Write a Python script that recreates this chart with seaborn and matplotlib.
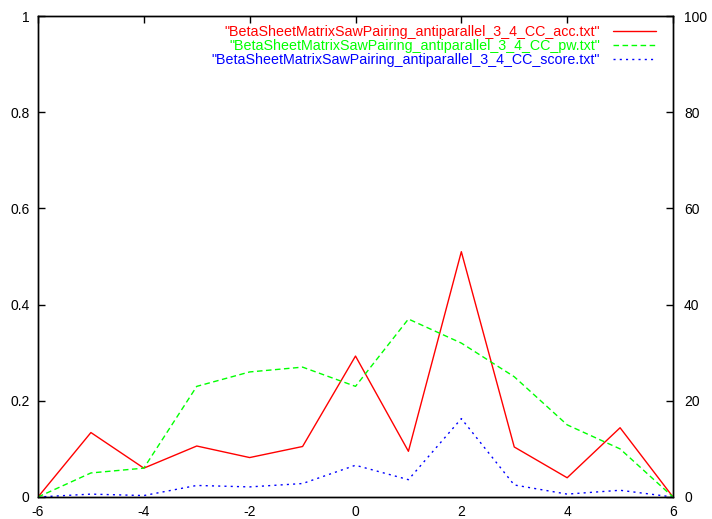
import numpy as np
import pandas as pd
import matplotlib
matplotlib.use('Agg')
import matplotlib.pyplot as plt
import seaborn as sns

# --- 資料 ---
offsets = [-6, -5, -4, -3, -2, -1, 0, 1, 2, 3, 4, 5, 6]
acc_vals = [0.0, 0.134, 0.060, 0.106, 0.082, 0.105, 0.293, 0.095, 0.510, 0.104, 0.040, 0.144, 0.0]
pw_vals = [0, 5, 6, 23, 26, 27, 23, 37, 32, 25, 15, 10, 0]
score_vals = [0.0, 0.006, 0.003, 0.024, 0.021, 0.028, 0.066, 0.036, 0.163, 0.025, 0.006, 0.014, 0.0]

labels = ['"BetaSheetMatrixSawPairing_antiparallel_3_4_CC_acc.txt"',
          '"BetaSheetMatrixSawPairing_antiparallel_3_4_CC_pw.txt"',
          '"BetaSheetMatrixSawPairing_antiparallel_3_4_CC_score.txt"']
colors = ['#ff0000', '#00ff00', '#0000ff']

sns.set_style("white")
plt.rcParams['font.family'] = ['Liberation Sans', 'DejaVu Sans']
plt.rcParams['font.size'] = 10
plt.rcParams['axes.unicode_minus'] = False

fig = plt.figure(figsize=(7.12, 5.19), dpi=100)
ax = fig.add_axes([38 / 712, 22 / 519, 635 / 712, 481 / 519])
ax2 = ax.twinx()

df_acc = pd.DataFrame({'x': offsets, 'y': acc_vals})
df_pw = pd.DataFrame({'x': offsets, 'y': pw_vals})
df_score = pd.DataFrame({'x': offsets, 'y': score_vals})

sns.lineplot(data=df_acc, x='x', y='y', ax=ax, color=colors[0], lw=1, label=labels[0], legend=False)
sns.lineplot(data=df_pw, x='x', y='y', ax=ax2, color=colors[1], lw=1, label=labels[1], legend=False,
             linestyle=(0, (4, 2.5)))
sns.lineplot(data=df_score, x='x', y='y', ax=ax, color=colors[2], lw=1, label=labels[2], legend=False,
             linestyle=(0, (1.5, 3)))

ax.set_xlim(-6, 6); ax.set_ylim(0, 1)
ax2.set_ylim(0, 100)
ax.set_xticks(np.arange(-6, 7, 2))
ax.set_yticks(np.arange(0, 1.01, 0.2))
ax.set_yticklabels(['0', '0.2', '0.4', '0.6', '0.8', '1'])
ax2.set_yticks(np.arange(0, 101, 20))
ax.set_xlabel(''); ax.set_ylabel(''); ax2.set_ylabel('')

ax.tick_params(direction='in', length=5, width=1, top=True, right=False, labelsize=10, colors='black', pad=6)
ax.tick_params(axis='x', pad=6)
ax2.tick_params(direction='in', length=5, width=1, labelsize=10, colors='black', pad=8)
for a in (ax, ax2):
    for s in a.spines.values():
        s.set_color('black'); s.set_linewidth(1)

handles = ax.get_lines()[:1] + ax2.get_lines()[:1] + ax.get_lines()[1:2]
leg = ax.legend(handles, labels, loc='upper right', frameon=False, markerfirst=False,
                handlelength=3.0, handletextpad=0.9, labelspacing=0.0, fontsize=10.3,
                borderaxespad=0.0, borderpad=0.0, bbox_to_anchor=(0.973, 0.982))
for t, c in zip(leg.get_texts(), colors):
    t.set_color(c)
leg.remove()
ax2.add_artist(leg)

fig.savefig('out.png', dpi=100)
